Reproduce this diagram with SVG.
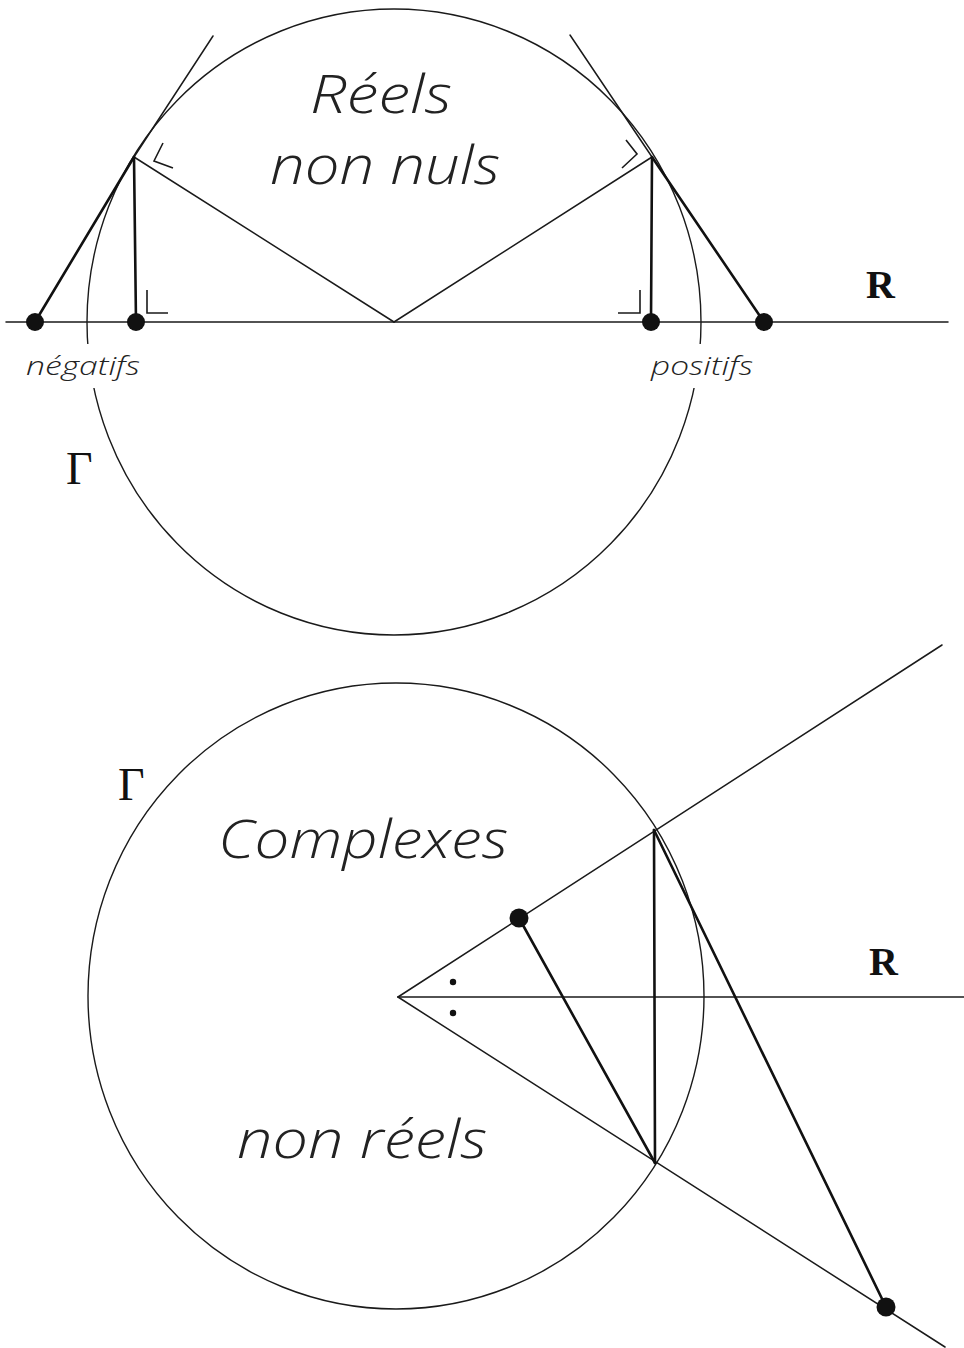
<svg xmlns="http://www.w3.org/2000/svg" width="964" height="1348" viewBox="0 0 964 1348">
<style>
.bg{fill:#ffffff}
.circ{fill:none;stroke:#1a1a1a;stroke-width:1.4}
.thin{fill:none;stroke:#1a1a1a;stroke-width:1.5;stroke-linecap:round}
.thick{fill:none;stroke:#111;stroke-width:2.6;stroke-linecap:round}
.mark{fill:none;stroke:#1a1a1a;stroke-width:1.6}
.pt{fill:#111}
.hand{font-family:"Open Sans","Liberation Sans",sans-serif;font-style:italic;font-weight:300;fill:#222}
.lab{font-family:"Open Sans","Liberation Sans",sans-serif;font-style:italic;font-weight:300;fill:#222;font-size:26px}
.ser{font-family:"Liberation Serif",serif;fill:#111}
</style>
<rect class="bg" x="0" y="0" width="964" height="1348"/>

<!-- TOP FIGURE -->
<g id="top-circle"><ellipse class="circ" cx="394" cy="322" rx="307" ry="313"/></g>
<g id="top-connectors">
<line class="thin" x1="6" y1="322" x2="948" y2="322"/>
<line class="thin" x1="394" y1="322" x2="134" y2="157"/>
<line class="thin" x1="394" y1="322" x2="652" y2="157"/>
<line class="thin" x1="134" y1="157" x2="213" y2="36"/>
<line class="thin" x1="652" y1="157" x2="570" y2="35"/>
<line class="thick" x1="35" y1="322" x2="134" y2="157"/>
<line class="thick" x1="136" y1="322" x2="134" y2="157"/>
<line class="thick" x1="764" y1="322" x2="652" y2="157"/>
<line class="thick" x1="651" y1="322" x2="652" y2="157"/>
<path class="mark" d="M163,143 L154,161 L173,168"/>
<path class="mark" d="M147,290 V313 H168"/>
<path class="mark" d="M626,140 L637,154 L622,168"/>
<path class="mark" d="M640,290 V313 H618"/>
</g>
<g id="top-points">
<circle class="pt" cx="35" cy="322" r="9"/>
<circle class="pt" cx="136" cy="322" r="9"/>
<circle class="pt" cx="651" cy="322" r="9"/>
<circle class="pt" cx="764" cy="322" r="9"/>
</g>
<g id="top-labels">
<text class="hand" x="310" y="113" font-size="54" textLength="142" lengthAdjust="spacingAndGlyphs">Réels</text>
<text class="hand" x="270" y="184" font-size="54" textLength="230" lengthAdjust="spacingAndGlyphs">non nuls</text>
<rect class="bg" x="22" y="344" width="124" height="44"/>
<text class="lab" x="26" y="375" textLength="114" lengthAdjust="spacingAndGlyphs">négatifs</text>
<rect class="bg" x="645" y="344" width="114" height="44"/>
<text class="lab" x="651" y="375" textLength="102" lengthAdjust="spacingAndGlyphs">positifs</text>
<text class="ser" x="866" y="298" font-size="40" font-weight="bold">R</text>
<text class="ser" x="66" y="484" font-size="46">Γ</text>
</g>

<!-- BOTTOM FIGURE -->
<g id="bottom-circle"><ellipse class="circ" cx="396" cy="996" rx="308" ry="313"/></g>
<g id="bottom-connectors">
<line class="thin" x1="398" y1="997" x2="964" y2="997"/>
<line class="thin" x1="398" y1="997" x2="942" y2="645"/>
<line class="thin" x1="398" y1="997" x2="945" y2="1347"/>
<line class="thick" x1="654" y1="830" x2="655" y2="1163"/>
<line class="thick" x1="519" y1="918" x2="655" y2="1163"/>
<line class="thick" x1="654" y1="830" x2="886" y2="1307"/>
<circle class="pt" cx="453" cy="982" r="3.2"/>
<circle class="pt" cx="453" cy="1013" r="3.2"/>
</g>
<g id="bottom-points">
<circle class="pt" cx="519" cy="918" r="9.5"/>
<circle class="pt" cx="886" cy="1307" r="9.5"/>
</g>
<g id="bottom-labels">
<text class="hand" x="218" y="858" font-size="54" textLength="290" lengthAdjust="spacingAndGlyphs">Complexes</text>
<text class="hand" x="237" y="1158" font-size="54" textLength="250" lengthAdjust="spacingAndGlyphs">non réels</text>
<text class="ser" x="869" y="975" font-size="40" font-weight="bold">R</text>
<text class="ser" x="118" y="800" font-size="46">Γ</text>
</g>
</svg>
